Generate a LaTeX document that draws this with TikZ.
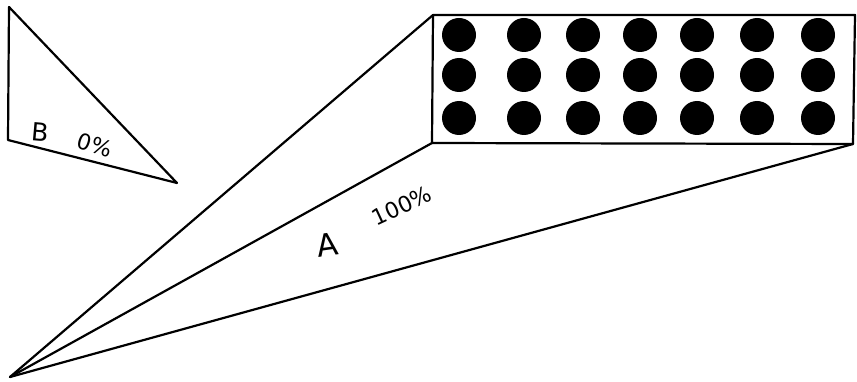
\documentclass[tikz,border=0pt]{standalone}
\usepackage{fontspec}
\setmainfont{DejaVu Sans}
\begin{document}
\begin{tikzpicture}[x=1pt,y=1pt,
  edge/.style={line width=2.2pt,line join=round,line cap=round},
  dot/.style={circle,fill=black,minimum size=34pt,inner sep=0pt},
  lbl/.style={font=\fontsize{22}{24}\selectfont,inner sep=0pt}]
\useasboundingbox (0,0) rectangle (857,-382);
% triangle B
\coordinate (bt) at (9,-7);
\coordinate (bl) at (8,-140);
\coordinate (br) at (177,-183);
\draw[edge] (bt) -- (bl) -- (br) -- cycle;
\node[lbl,font=\fontsize{25}{27}\selectfont,rotate=-5] (blab) at (40,-132) {B};
\node[lbl,rotate=-18] (bpct) at (95,-145) {0\%};
% rectangle
\coordinate (rtl) at (433,-15);
\coordinate (rtr) at (855,-15);
\coordinate (rbr) at (853,-144);
\coordinate (rbl) at (432,-143);
\draw[edge] (rtl) -- (rtr) -- (rbr) -- (rbl) -- cycle;
% apex lines
\coordinate (apex) at (10,-377);
\draw[edge] (apex) -- (rtl);
\draw[edge] (apex) -- (rbl);
\draw[edge] (apex) -- (rbr);
\node[lbl,font=\fontsize{31}{33}\selectfont,rotate=8] (alab) at (327,-245) {A};
\node[lbl,rotate=25] (apct) at (402,-206) {100\%};
% dots
\foreach \x [count=\i] in {459,524,583,640,697,757,818}{
  \foreach \y [count=\j] in {35,75,118}{
    \node[dot] (d\i\j) at (\x,-\y) {};
  }
}
\end{tikzpicture}
\end{document}
